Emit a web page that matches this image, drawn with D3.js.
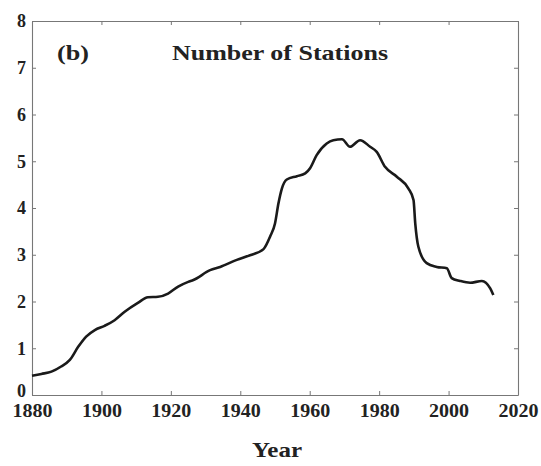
<!DOCTYPE html>
<html>
<head>
<meta charset="utf-8">
<script src="https://cdn.jsdelivr.net/npm/d3@7"></script>
<style>
  html, body { margin: 0; padding: 0; background: #fff; }
  text { font-family: "Liberation Serif", "DejaVu Serif", serif; font-weight: bold; fill: #222; }
</style>
</head>
<body>
<div id="chart"></div>
<script>
(function() {
'use strict';

const W = 541;
const H = 466;
const M = { left: 32, right: 23, top: 21, bottom: 71 };

// station count curve
const years = [1880, 1882.7, 1885.6, 1888.4, 1890.9, 1893.3, 1895.6, 1898.1, 1900.9, 1903.8,
  1906.7, 1910.5, 1913.4, 1916.3, 1919.2, 1922.1, 1925, 1926.5, 1931.3, 1934.2,
  1939, 1942.8, 1946.7, 1948.6, 1950, 1951, 1952, 1953.4, 1956.3, 1958.7,
  1960.1, 1962, 1964.9, 1966.8, 1969.3, 1971.6, 1974.5, 1977.4, 1979.3, 1981.7,
  1985.1, 1988.4, 1989.9, 1990.4, 1991.3, 1993.7, 1996.6, 1999.5, 2000.9, 2003.3,
  2006.2, 2009.6, 2012, 2012.9];
const stations = [0.41, 0.45, 0.50, 0.61, 0.75, 1.03, 1.25, 1.39, 1.48, 1.60,
  1.78, 1.97, 2.09, 2.10, 2.17, 2.32, 2.42, 2.46, 2.67, 2.74,
  2.89, 2.99, 3.12, 3.39, 3.67, 4.10, 4.42, 4.61, 4.68, 4.74,
  4.85, 5.13, 5.38, 5.45, 5.47, 5.31, 5.45, 5.31, 5.20, 4.88,
  4.67, 4.42, 4.17, 3.67, 3.17, 2.82, 2.74, 2.71, 2.50, 2.44,
  2.40, 2.44, 2.28, 2.14];

const xTicks = [1880, 1900, 1920, 1940, 1960, 1980, 2000, 2020];
const yTicks = [0, 1, 2, 3, 4, 5, 6, 7, 8];

const data = years.map((y, i) => [y, stations[i]]);

const x = d3.scaleLinear().domain([1880, 2020]).range([M.left, W - M.right]);
const y = d3.scaleLinear().domain([0, 8]).range([H - M.bottom, M.top]);

const svg = d3.select('#chart').append('svg')
  .attr('width', W)
  .attr('height', H);

// frame axes, ticks pointing inward
function styleAxis(g) {
  g.select('.domain').attr('stroke', '#777').attr('stroke-width', 1.1);
  g.selectAll('.tick line').attr('stroke', '#777');
}

svg.append('g')
  .attr('transform', `translate(0, ${H - M.bottom})`)
  .call(d3.axisBottom(x).tickValues(xTicks).tickFormat(d3.format('d')).tickSizeInner(-4).tickSizeOuter(0).tickPadding(9))
  .call(styleAxis)
  .call(g => g.selectAll('text')
    .attr('font-size', 18).attr('font-family', null).attr('fill', '#222')
    .attr('textLength', 40).attr('lengthAdjust', 'spacingAndGlyphs'));

svg.append('g')
  .attr('transform', `translate(0, ${M.top})`)
  .call(d3.axisTop(x).tickValues(xTicks).tickFormat('').tickSizeInner(-4).tickSizeOuter(0))
  .call(styleAxis);

svg.append('g')
  .attr('transform', `translate(${M.left}, 0)`)
  .call(d3.axisLeft(y).tickValues(yTicks).tickSizeInner(-4).tickSizeOuter(0).tickPadding(6))
  .call(styleAxis)
  .call(g => g.selectAll('text').attr('font-size', 18).attr('font-family', null).attr('fill', '#222'))
  .call(g => g.selectAll('.tick').filter(d => d === 0).select('text').attr('dy', '0.1em'));

svg.append('g')
  .attr('transform', `translate(${W - M.right}, 0)`)
  .call(d3.axisRight(y).tickValues(yTicks).tickFormat('').tickSizeInner(-4).tickSizeOuter(0))
  .call(styleAxis);

const line = d3.line()
  .x(d => x(d[0]))
  .y(d => y(d[1]))
  .curve(d3.curveMonotoneX);

svg.append('path')
  .datum(data)
  .attr('fill', 'none')
  .attr('stroke', '#1a1a1a')
  .attr('stroke-width', 2.6)
  .attr('stroke-linejoin', 'round')
  .attr('d', line);

svg.append('text')
  .attr('x', 57)
  .attr('y', 60)
  .attr('font-size', 20)
  .attr('textLength', 32)
  .attr('lengthAdjust', 'spacingAndGlyphs')
  .text('(b)');

svg.append('text')
  .attr('x', 172)
  .attr('y', 60)
  .attr('font-size', 21)
  .attr('textLength', 216)
  .attr('lengthAdjust', 'spacingAndGlyphs')
  .text('Number of Stations');

svg.append('text')
  .attr('x', 252)
  .attr('y', 457)
  .attr('font-size', 21)
  .attr('textLength', 50)
  .attr('lengthAdjust', 'spacingAndGlyphs')
  .text('Year');

})();
</script>
</body>
</html>
